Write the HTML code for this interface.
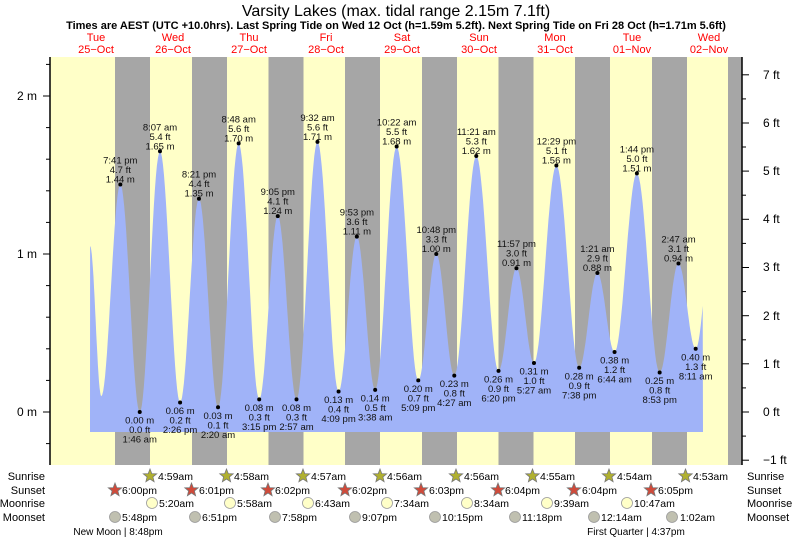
<!DOCTYPE html>
<html><head><meta charset="utf-8"><style>
html,body{margin:0;padding:0;background:#fff;}
svg{display:block;font-family:"Liberation Sans",sans-serif;}
</style></head><body>
<svg id="s" width="793" height="539" viewBox="0 0 793 539" xmlns="http://www.w3.org/2000/svg">
<rect x="50" y="57" width="692" height="408" fill="#ffffc8"/>
<g fill="#a6a6a6">
<rect x="115" y="57" width="35" height="408"/>
<rect x="192" y="57" width="35" height="408"/>
<rect x="268.5" y="57" width="35" height="408"/>
<rect x="345" y="57" width="35" height="408"/>
<rect x="422" y="57" width="35" height="408"/>
<rect x="498.5" y="57" width="35" height="408"/>
<rect x="575" y="57" width="35" height="408"/>
<rect x="652" y="57" width="35" height="408"/>
<rect x="728" y="57" width="14" height="408"/>
</g>
<path id="tide" fill="#a0b3f8" d=""/>
<g fill="#000" id="dots"></g>
<line x1="50" y1="57" x2="50" y2="465" stroke="#000" stroke-width="1.5"/>
<line x1="742" y1="57" x2="742" y2="465" stroke="#000" stroke-width="1.5"/>
<g stroke="#000" stroke-width="1">
<line x1="43" y1="412" x2="50" y2="412"/><line x1="43" y1="254" x2="50" y2="254"/><line x1="43" y1="96" x2="50" y2="96"/>
<line x1="46" y1="443.6" x2="50" y2="443.6"/><line x1="46" y1="380.4" x2="50" y2="380.4"/><line x1="46" y1="348.8" x2="50" y2="348.8"/><line x1="46" y1="317.2" x2="50" y2="317.2"/><line x1="46" y1="285.6" x2="50" y2="285.6"/><line x1="46" y1="222.4" x2="50" y2="222.4"/><line x1="46" y1="190.8" x2="50" y2="190.8"/><line x1="46" y1="159.2" x2="50" y2="159.2"/><line x1="46" y1="127.6" x2="50" y2="127.6"/><line x1="46" y1="64.4" x2="50" y2="64.4"/>
<line x1="742" y1="460.2" x2="749" y2="460.2"/><line x1="742" y1="412" x2="749" y2="412"/><line x1="742" y1="363.8" x2="749" y2="363.8"/><line x1="742" y1="315.7" x2="749" y2="315.7"/><line x1="742" y1="267.5" x2="749" y2="267.5"/><line x1="742" y1="219.3" x2="749" y2="219.3"/><line x1="742" y1="171.1" x2="749" y2="171.1"/><line x1="742" y1="123" x2="749" y2="123"/><line x1="742" y1="74.8" x2="749" y2="74.8"/>
<line x1="742" y1="436.1" x2="746" y2="436.1"/><line x1="742" y1="387.9" x2="746" y2="387.9"/><line x1="742" y1="339.8" x2="746" y2="339.8"/><line x1="742" y1="291.6" x2="746" y2="291.6"/><line x1="742" y1="243.4" x2="746" y2="243.4"/><line x1="742" y1="195.2" x2="746" y2="195.2"/><line x1="742" y1="147" x2="746" y2="147"/><line x1="742" y1="98.9" x2="746" y2="98.9"/>
</g>
<g font-size="12" fill="#000">
<text x="37" y="416" text-anchor="end">0 m</text><text x="37" y="258" text-anchor="end">1 m</text><text x="37" y="100" text-anchor="end">2 m</text>
<text x="763" y="464">−1 ft</text><text x="763" y="416">0 ft</text><text x="763" y="368">1 ft</text><text x="763" y="320">2 ft</text><text x="763" y="271">3 ft</text><text x="763" y="223">4 ft</text><text x="763" y="175">5 ft</text><text x="763" y="127">6 ft</text><text x="763" y="79">7 ft</text>
</g>
<text x="396" y="16" font-size="16" text-anchor="middle">Varsity Lakes (max. tidal range 2.15m 7.1ft)</text>
<text x="396" y="29" font-size="11" font-weight="bold" text-anchor="middle">Times are AEST (UTC +10.0hrs). Last Spring Tide on Wed 12 Oct (h=1.59m 5.2ft). Next Spring Tide on Fri 28 Oct (h=1.71m 5.6ft)</text>
<g font-size="11" fill="#ff0000" text-anchor="middle">
<text x="96" y="41">Tue</text><text x="96" y="53">25−Oct</text>
<text x="173" y="41">Wed</text><text x="173" y="53">26−Oct</text>
<text x="249" y="41">Thu</text><text x="249" y="53">27−Oct</text>
<text x="326" y="41">Fri</text><text x="326" y="53">28−Oct</text>
<text x="402" y="41">Sat</text><text x="402" y="53">29−Oct</text>
<text x="479" y="41">Sun</text><text x="479" y="53">30−Oct</text>
<text x="555" y="41">Mon</text><text x="555" y="53">31−Oct</text>
<text x="632" y="41">Tue</text><text x="632" y="53">01−Nov</text>
<text x="709" y="41">Wed</text><text x="709" y="53">02−Nov</text>
</g>
<g font-size="9.5" fill="#111" text-anchor="middle">
<text x="120.3" y="163.5">7:41 pm</text><text x="120.3" y="173">4.7 ft</text><text x="120.3" y="182.5">1.44 m</text>
<text x="160" y="130.3">8:07 am</text><text x="160" y="139.8">5.4 ft</text><text x="160" y="149.3">1.65 m</text>
<text x="199" y="177.7">8:21 pm</text><text x="199" y="187.2">4.4 ft</text><text x="199" y="196.7">1.35 m</text>
<text x="238.7" y="122.4">8:48 am</text><text x="238.7" y="131.9">5.6 ft</text><text x="238.7" y="141.4">1.70 m</text>
<text x="277.8" y="195.1">9:05 pm</text><text x="277.8" y="204.6">4.1 ft</text><text x="277.8" y="214.1">1.24 m</text>
<text x="317.5" y="120.8">9:32 am</text><text x="317.5" y="130.3">5.6 ft</text><text x="317.5" y="139.8">1.71 m</text>
<text x="356.9" y="215.6">9:53 pm</text><text x="356.9" y="225.1">3.6 ft</text><text x="356.9" y="234.6">1.11 m</text>
<text x="396.6" y="125.6">10:22 am</text><text x="396.6" y="135.1">5.5 ft</text><text x="396.6" y="144.6">1.68 m</text>
<text x="436.3" y="233">10:48 pm</text><text x="436.3" y="242.5">3.3 ft</text><text x="436.3" y="252">1.00 m</text>
<text x="476.3" y="135">11:21 am</text><text x="476.3" y="144.5">5.3 ft</text><text x="476.3" y="154">1.62 m</text>
<text x="516.5" y="247.2">11:57 pm</text><text x="516.5" y="256.7">3.0 ft</text><text x="516.5" y="266.2">0.91 m</text>
<text x="556.4" y="144.5">12:29 pm</text><text x="556.4" y="154">5.1 ft</text><text x="556.4" y="163.5">1.56 m</text>
<text x="597.4" y="252">1:21 am</text><text x="597.4" y="261.5">2.9 ft</text><text x="597.4" y="271">0.88 m</text>
<text x="636.9" y="152.4">1:44 pm</text><text x="636.9" y="161.9">5.0 ft</text><text x="636.9" y="171.4">1.51 m</text>
<text x="678.5" y="242.5">2:47 am</text><text x="678.5" y="252">3.1 ft</text><text x="678.5" y="261.5">0.94 m</text>

<text x="139.7" y="423.5">0.00 m</text><text x="139.7" y="433">0.0 ft</text><text x="139.7" y="442.5">1:46 am</text>
<text x="180.1" y="414">0.06 m</text><text x="180.1" y="423.5">0.2 ft</text><text x="180.1" y="433">2:26 pm</text>
<text x="218" y="418.8">0.03 m</text><text x="218" y="428.3">0.1 ft</text><text x="218" y="437.8">2:20 am</text>
<text x="259.2" y="410.9">0.08 m</text><text x="259.2" y="420.4">0.3 ft</text><text x="259.2" y="429.9">3:15 pm</text>
<text x="296.5" y="410.9">0.08 m</text><text x="296.5" y="420.4">0.3 ft</text><text x="296.5" y="429.9">2:57 am</text>
<text x="338.6" y="403">0.13 m</text><text x="338.6" y="412.5">0.4 ft</text><text x="338.6" y="422">4:09 pm</text>
<text x="375.2" y="401.4">0.14 m</text><text x="375.2" y="410.9">0.5 ft</text><text x="375.2" y="420.4">3:38 am</text>
<text x="418.3" y="391.9">0.20 m</text><text x="418.3" y="401.4">0.7 ft</text><text x="418.3" y="410.9">5:09 pm</text>
<text x="454.3" y="387.2">0.23 m</text><text x="454.3" y="396.7">0.8 ft</text><text x="454.3" y="406.2">4:27 am</text>
<text x="498.5" y="382.4">0.26 m</text><text x="498.5" y="391.9">0.9 ft</text><text x="498.5" y="401.4">6:20 pm</text>
<text x="534" y="374.5">0.31 m</text><text x="534" y="384">1.0 ft</text><text x="534" y="393.5">5:27 am</text>
<text x="579.2" y="379.3">0.28 m</text><text x="579.2" y="388.8">0.9 ft</text><text x="579.2" y="398.3">7:38 pm</text>
<text x="614.6" y="363.5">0.38 m</text><text x="614.6" y="373">1.2 ft</text><text x="614.6" y="382.5">6:44 am</text>
<text x="659.7" y="384">0.25 m</text><text x="659.7" y="393.5">0.8 ft</text><text x="659.7" y="403">8:53 pm</text>
<text x="695.7" y="360.3">0.40 m</text><text x="695.7" y="369.8">1.3 ft</text><text x="695.7" y="379.3">8:11 am</text>
</g>
<g font-size="11" fill="#000">
<text x="45" y="480" text-anchor="end">Sunrise</text><text x="45" y="494" text-anchor="end">Sunset</text><text x="45" y="507" text-anchor="end">Moonrise</text><text x="45" y="521" text-anchor="end">Moonset</text>
<text x="747" y="480">Sunrise</text><text x="747" y="494">Sunset</text><text x="747" y="507">Moonrise</text><text x="747" y="521">Moonset</text>
</g>
<g id="icons"></g>
<g font-size="10.5" fill="#000">
<text x="158" y="480">4:59am</text><text x="234" y="480">4:58am</text><text x="311" y="480">4:57am</text><text x="387" y="480">4:56am</text><text x="464" y="480">4:56am</text><text x="540" y="480">4:55am</text><text x="617" y="480">4:54am</text><text x="693" y="480">4:53am</text>
<text x="122" y="494">6:00pm</text><text x="199" y="494">6:01pm</text><text x="275" y="494">6:02pm</text><text x="352" y="494">6:02pm</text><text x="429" y="494">6:03pm</text><text x="505" y="494">6:04pm</text><text x="582" y="494">6:04pm</text><text x="658" y="494">6:05pm</text>
<text x="159" y="507">5:20am</text><text x="237" y="507">5:58am</text><text x="315" y="507">6:43am</text><text x="394" y="507">7:34am</text><text x="474" y="507">8:34am</text><text x="554" y="507">9:39am</text><text x="634" y="507">10:47am</text>
<text x="122" y="521">5:48pm</text><text x="202" y="521">6:51pm</text><text x="282" y="521">7:58pm</text><text x="362" y="521">9:07pm</text><text x="442" y="521">10:15pm</text><text x="522" y="521">11:18pm</text><text x="601" y="521">12:14am</text><text x="680" y="521">1:02am</text>
<text x="118" y="535" text-anchor="middle" font-size="10">New Moon | 8:48pm</text>
<text x="636" y="535" text-anchor="middle" font-size="10">First Quarter | 4:37pm</text>
</g>
</svg>
<script>
(function(){
var NS="http://www.w3.org/2000/svg";
function X(t){return 134.1+3.1875*t;}
function Y(m){return 412-158*m;}
var ex=[[-13.8,1.05],[-10.3,0.1],[-4.32,1.44],[1.77,0],[8.12,1.65],[14.43,0.06],[20.35,1.35],[26.33,0.03],[32.8,1.70],[39.25,0.08],[45.08,1.24],[50.95,0.08],[57.53,1.71],[64.15,0.13],[69.88,1.11],[75.63,0.14],[82.37,1.68],[89.15,0.20],[94.8,1.00],[100.45,0.23],[107.35,1.62],[114.33,0.26],[119.95,0.91],[125.45,0.31],[132.48,1.56],[139.63,0.28],[145.35,0.88],[150.73,0.38],[157.73,1.51],[164.88,0.25],[170.78,0.94],[176.18,0.40],[182.5,1.4]];
var d="M90 432 ";var tEnd=(703-134.1)/3.1875;
for(var i=0;i<ex.length-1;i++){var a=ex[i],b=ex[i+1];
 for(var k=0;k<=20;k++){var t=a[0]+(b[0]-a[0])*k/20;if(t>tEnd)break;
  var f=(1-Math.cos(Math.PI*k/20))/2;var v=a[1]+(b[1]-a[1])*f;
  d+="L"+X(t).toFixed(1)+" "+Y(v).toFixed(1)+" ";}
 if(b[0]>tEnd){break;}}
d+="L703 432 Z";document.getElementById("tide").setAttribute("d",d);
var g=document.getElementById("dots");
for(var i=2;i<ex.length-1;i++){var c=document.createElementNS(NS,"circle");c.setAttribute("cx",X(ex[i][0]));c.setAttribute("cy",Y(ex[i][1]));c.setAttribute("r",2);g.appendChild(c);}
var ic=document.getElementById("icons");
function star(x,y,fill,stroke){var p="";for(var j=0;j<10;j++){var r=j%2?3:7,a=-Math.PI/2+j*Math.PI/5;p+=(x+r*Math.cos(a)).toFixed(1)+","+(y+r*Math.sin(a)).toFixed(1)+" ";}
 var e=document.createElementNS(NS,"polygon");e.setAttribute("points",p);e.setAttribute("fill",fill);e.setAttribute("stroke",stroke);e.setAttribute("stroke-width","0.8");ic.appendChild(e);}
function circ(x,y,fill){var e=document.createElementNS(NS,"circle");e.setAttribute("cx",x);e.setAttribute("cy",y);e.setAttribute("r",5.5);e.setAttribute("fill",fill);e.setAttribute("stroke","#999");e.setAttribute("stroke-width","0.8");ic.appendChild(e);}
[150,226.5,303,380,456,532.5,609,685.5].forEach(function(x){star(x,476,"#b0b030","#777");});
[115,191.5,268,345,421,498,574,651].forEach(function(x){star(x,490,"#d04a3a","#777");});
[152,230,308,387,467,547,627].forEach(function(x){circ(x,503,"#ffffc8");});
[115,195,275,355,435,515,594,672].forEach(function(x){circ(x,517,"#c0c0b0");});
})();
</script>
</body></html>
